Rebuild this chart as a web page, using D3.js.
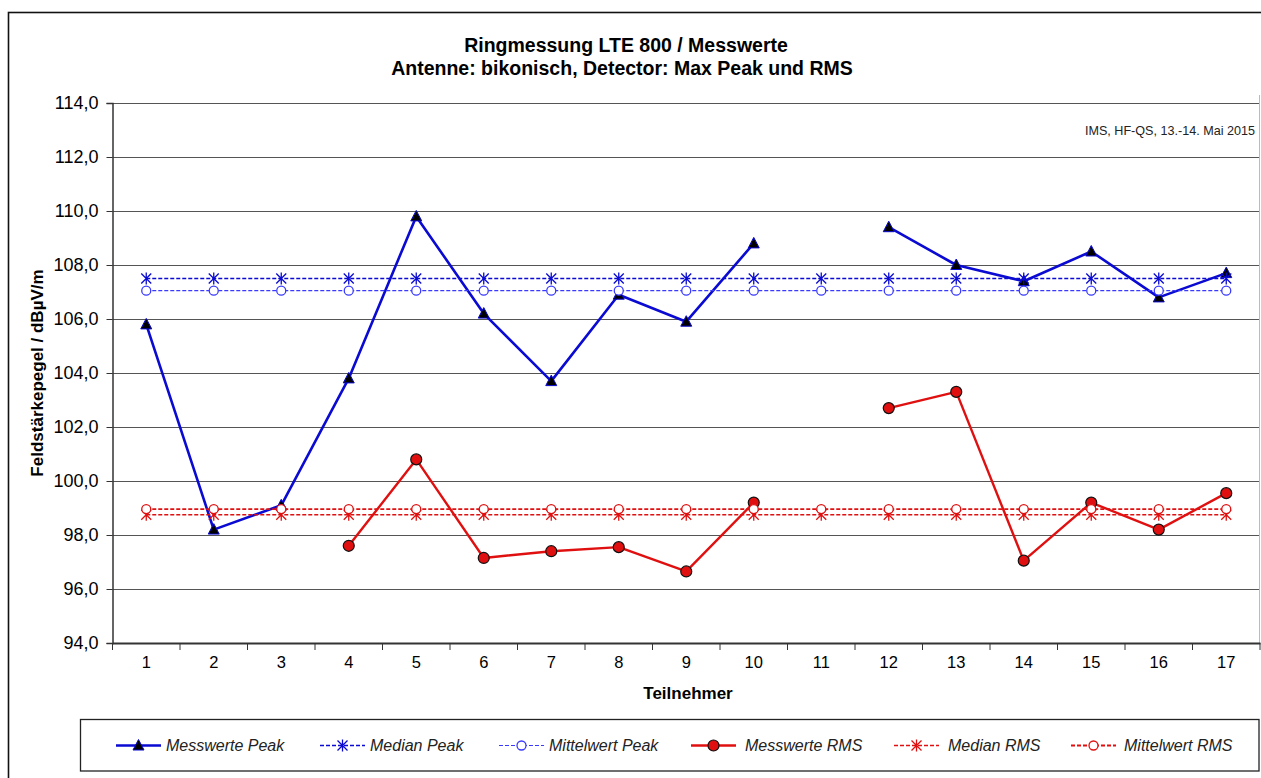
<!DOCTYPE html>
<html>
<head>
<meta charset="utf-8">
<script src="https://cdn.jsdelivr.net/npm/d3@7"></script>
<style>
  html, body { margin: 0; padding: 0; background: #fff; }
  svg { display: block; font-family: "Liberation Sans", Arial, sans-serif; }
</style>
</head>
<body>
<svg id="chart" width="1261" height="778"></svg>
<script>
// ---------- data ----------
const categories = ["1","2","3","4","5","6","7","8","9","10","11","12","13","14","15","16","17"];
const peakValues   = [105.8, 98.2, 99.1, 103.8, 109.8, 106.2, 103.7, 106.9, 105.9, 108.8, null, 109.4, 108.0, 107.4, 108.5, 106.8, 107.7];
const medianPeak   = [107.5,107.5,107.5,107.5,107.5,107.5,107.5,107.5,107.5,107.5,107.5,107.5,107.5,107.5,107.5,107.5,107.5];
const meanPeak     = [107.05,107.05,107.05,107.05,107.05,107.05,107.05,107.05,107.05,107.05,107.05,107.05,107.05,107.05,107.05,107.05,107.05];
const rmsValues    = [null, null, null, 97.6, 100.8, 97.15, 97.4, 97.55, 96.65, 99.2, null, 102.7, 103.3, 97.05, 99.2, 98.2, 99.55];
const medianRms    = [98.75,98.75,98.75,98.75,98.75,98.75,98.75,98.75,98.75,98.75,98.75,98.75,98.75,98.75,98.75,98.75,98.75];
const meanRms      = [98.96,98.96,98.96,98.96,98.96,98.96,98.96,98.96,98.96,98.96,98.96,98.96,98.96,98.96,98.96,98.96,98.96];
const yTicks       = [94, 96, 98, 100, 102, 104, 106, 108, 110, 112, 114];
const seriesNames  = ["Messwerte Peak", "Median Peak", "Mittelwert Peak", "Messwerte RMS", "Median RMS", "Mittelwert RMS"];
const titleLines   = ["Ringmessung LTE 800 / Messwerte", "Antenne: bikonisch, Detector: Max Peak und RMS"];
const yTitle       = "Feldstärkepegel / dBµV/m";
const xTitle       = "Teilnehmer";
const note         = "IMS, HF-QS, 13.-14. Mai 2015";

// ---------- setup ----------
const svg = d3.select("#chart");
const BLUE = "#0a0ad2", RED = "#e01010";
const plot = { left: 112.5, right: 1260, top: 103, bottom: 643 };

const x = d3.scaleBand().domain(categories).range([plot.left, plot.right]);
const y = d3.scaleLinear().domain([94, 114]).range([plot.bottom, plot.top]);
const cx = c => x(c) + x.bandwidth() / 2;

const de = d3.formatLocale({ decimal: ",", thousands: ".", grouping: [3], currency: ["", " €"] });
const fmt = de.format(".1f");

// outer frame
svg.append("rect").attr("x", 8.5).attr("y", 12.5).attr("width", 1400).attr("height", 900)
  .attr("fill", "none").attr("stroke", "#111").attr("stroke-width", 1.6);

// title
svg.append("text").attr("x", 626).attr("y", 52).attr("text-anchor", "middle")
  .attr("font-size", 19.5).attr("font-weight", "bold").text(titleLines[0]);
svg.append("text").attr("x", 622).attr("y", 75).attr("text-anchor", "middle")
  .attr("font-size", 19.5).attr("font-weight", "bold").text(titleLines[1]);

// gridlines
svg.append("g").selectAll("line").data(yTicks).join("line")
  .attr("x1", plot.left).attr("x2", plot.right)
  .attr("y1", d => Math.round(y(d)) + 0.5).attr("y2", d => Math.round(y(d)) + 0.5)
  .attr("stroke", "#555").attr("stroke-width", 1);

// right edge of plot
svg.append("line").attr("x1", plot.right - 0.5).attr("x2", plot.right - 0.5)
  .attr("y1", plot.top - 8).attr("y2", plot.bottom).attr("stroke", "#bbb");

// y axis
const yAxis = svg.append("g").attr("transform", `translate(${plot.left},0)`)
  .call(d3.axisLeft(y).tickValues(yTicks).tickFormat(fmt).tickSize(6).tickPadding(8));
yAxis.select(".domain").attr("stroke", "#333").attr("stroke-width", 1.5);
yAxis.selectAll(".tick line").attr("stroke", "#333");
yAxis.selectAll(".tick text").attr("font-size", 18).attr("font-family", "Liberation Sans, Arial, sans-serif").attr("fill", "#000");

// x axis
const xAxis = svg.append("g").attr("transform", `translate(0,${plot.bottom})`)
  .call(d3.axisBottom(x).tickSize(0).tickPadding(13));
xAxis.select(".domain").attr("stroke", "#333").attr("stroke-width", 1.8);
xAxis.selectAll(".tick text").attr("font-size", 16.5).attr("font-family", "Liberation Sans, Arial, sans-serif").attr("fill", "#000");
svg.append("g").selectAll("line").data(categories.concat(["__end"])).join("line")
  .attr("x1", d => d === "__end" ? plot.right : x(d)).attr("x2", d => d === "__end" ? plot.right : x(d))
  .attr("y1", plot.bottom).attr("y2", plot.bottom + 7).attr("stroke", "#333");

// axis titles
svg.append("text").attr("transform", `translate(43,${(plot.top + plot.bottom) / 2}) rotate(-90)`)
  .attr("text-anchor", "middle").attr("font-size", 17).attr("font-weight", "bold").text(yTitle);
svg.append("text").attr("x", 688).attr("y", 699).attr("text-anchor", "middle")
  .attr("font-size", 17).attr("font-weight", "bold").text(xTitle);

// note
svg.append("text").attr("x", 1255).attr("y", 135).attr("text-anchor", "end")
  .attr("font-size", 12.6).attr("fill", "#222").text(note);

// ---------- marker helpers ----------
function triangle(g, px, py, color) {
  g.append("path").attr("d", `M${px},${py - 6} L${px + 5.5},${py + 4.5} L${px - 5.5},${py + 4.5} Z`)
    .attr("fill", "#000").attr("stroke", color).attr("stroke-width", 1);
}
function asterisk(g, px, py, color) {
  const s = 5;
  g.append("path").attr("d", `M${px - s},${py - s} L${px + s},${py + s} M${px - s},${py + s} L${px + s},${py - s} M${px},${py - s - 1} L${px},${py + s + 1}`)
    .attr("stroke", color).attr("stroke-width", 1.3).attr("fill", "none");
}
function ring(g, px, py, color) {
  g.append("circle").attr("cx", px).attr("cy", py).attr("r", 4.5)
    .attr("fill", "#fff").attr("stroke", color).attr("stroke-width", 1.3);
}
function dot(g, px, py, color) {
  g.append("circle").attr("cx", px).attr("cy", py).attr("r", 5.5)
    .attr("fill", color).attr("stroke", "#111").attr("stroke-width", 1.2);
}

const series = [
  { values: peakValues, color: BLUE, width: 2.6, dash: null, marker: triangle },
  { values: medianPeak, color: BLUE, width: 1.6, dash: "4,2", marker: asterisk },
  { values: meanPeak,   color: "#3a3aff", width: 1.1, dash: "4,2", marker: ring },
  { values: rmsValues,  color: RED,  width: 2.4, dash: null, marker: dot },
  { values: medianRms,  color: RED,  width: 1.6, dash: "4,2", marker: asterisk },
  { values: meanRms,    color: RED,  width: 1.8, dash: "4,2", marker: ring }
];

const line = d3.line().defined(d => d.v !== null).x(d => cx(d.c)).y(d => y(d.v));

series.forEach(s => {
  const pts = categories.map((c, i) => ({ c, v: s.values[i] }));
  const g = svg.append("g");
  g.append("path").datum(pts).attr("d", line).attr("fill", "none")
    .attr("stroke", s.color).attr("stroke-width", s.width)
    .attr("stroke-dasharray", s.dash).attr("stroke-linejoin", "round");
  pts.filter(p => p.v !== null).forEach(p => s.marker(g, cx(p.c), y(p.v), s.color));
});

// ---------- legend ----------
svg.append("rect").attr("x", 80.5).attr("y", 719.5).attr("width", 1178.5).attr("height", 51.5)
  .attr("fill", "#fff").attr("stroke", "#222").attr("stroke-width", 1.3);
const legendSymX = [116, 320, 499, 691, 894, 1071];
const legendTextX = [166, 370, 549, 745, 948, 1124];
const ly = 745.5;
series.forEach((s, i) => {
  const g = svg.append("g");
  g.append("line").attr("x1", legendSymX[i]).attr("x2", legendSymX[i] + 45).attr("y1", ly).attr("y2", ly)
    .attr("stroke", s.color).attr("stroke-width", s.width).attr("stroke-dasharray", s.dash);
  s.marker(g, legendSymX[i] + 22.5, ly, s.color);
  g.append("text").attr("x", legendTextX[i]).attr("y", ly + 5.5).attr("font-size", 16)
    .attr("font-style", "italic").attr("fill", "#222").text(seriesNames[i]);
});
</script>
</body>
</html>
